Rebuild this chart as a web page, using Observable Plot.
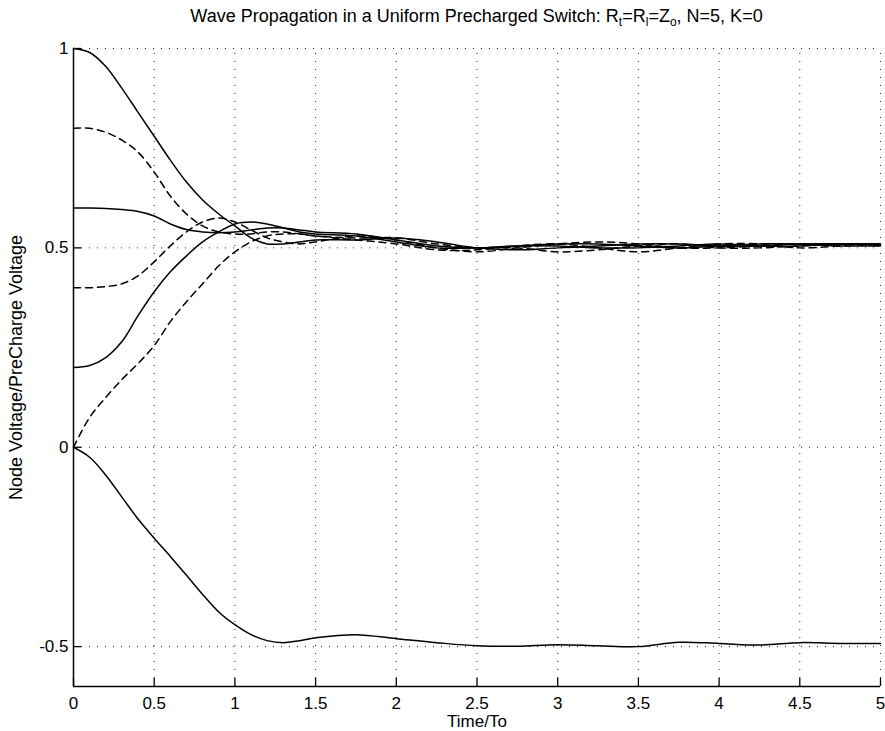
<!DOCTYPE html>
<html>
<head>
<meta charset="utf-8">
<script src="https://cdn.jsdelivr.net/npm/d3@7"></script>
<script src="https://cdn.jsdelivr.net/npm/@observablehq/plot@0.6"></script>
<style>
  body { margin: 0; background: #fff; }
  #title { height: 30px; box-sizing: border-box; padding: 7px 5px 0 73px; text-align: center;
           font-family: "Liberation Sans", Arial, sans-serif; font-size: 18px; line-height: 19px; color: #000; }
  #title sub { font-size: 12px; vertical-align: -4px; line-height: 0; }
  #chart g[aria-label$="tick label"] text { font-size: 17px; }
</style>
</head>
<body>
<div id="title">Wave Propagation in a Uniform Precharged Switch: R<sub>t</sub>=R<sub>l</sub>=Z<sub>o</sub>, N=5, K=0</div>
<div id="chart"></div>
<script>
const time = [0,0.1,0.2,0.3,0.4,0.5,0.6,0.7,0.8,0.9,1.0,1.1,1.2,1.3,1.4,1.5,
              1.75,2,2.25,2.5,2.75,3,3.25,3.5,3.75,4,4.25,4.5,4.75,5];
const node1 = [1,0.99,0.955,0.9,0.84,0.78,0.72,0.665,0.62,0.585,0.555,0.525,0.51,0.51,0.515,0.52,
               0.52,0.525,0.515,0.5,0.495,0.5,0.505,0.51,0.51,0.505,0.505,0.51,0.51,0.508];
const node2 = [0.8,0.8,0.79,0.77,0.74,0.69,0.63,0.585,0.555,0.54,0.535,0.535,0.54,0.54,0.535,0.53,
               0.52,0.51,0.495,0.495,0.505,0.51,0.5,0.49,0.5,0.51,0.51,0.5,0.505,0.51];
const node3 = [0.6,0.6,0.599,0.596,0.591,0.58,0.56,0.546,0.54,0.538,0.54,0.545,0.55,0.55,0.545,0.54,
               0.535,0.52,0.505,0.5,0.505,0.51,0.51,0.505,0.5,0.505,0.51,0.51,0.505,0.505];
const node4 = [0.4,0.4,0.403,0.41,0.43,0.465,0.505,0.54,0.565,0.575,0.565,0.545,0.525,0.515,0.51,0.515,
               0.53,0.52,0.5,0.49,0.5,0.51,0.515,0.51,0.5,0.5,0.505,0.51,0.51,0.505];
const node5 = [0.2,0.205,0.225,0.265,0.33,0.39,0.44,0.48,0.515,0.54,0.56,0.565,0.56,0.55,0.54,0.535,
               0.53,0.515,0.5,0.5,0.505,0.505,0.5,0.5,0.505,0.51,0.505,0.505,0.51,0.51];
const node6 = [0,0.075,0.125,0.17,0.21,0.255,0.315,0.365,0.41,0.455,0.49,0.515,0.53,0.535,0.535,0.53,
               0.525,0.525,0.51,0.5,0.5,0.49,0.495,0.505,0.51,0.5,0.5,0.505,0.51,0.51];
const load  = [0,-0.025,-0.07,-0.125,-0.18,-0.228,-0.274,-0.321,-0.369,-0.413,-0.445,-0.47,-0.485,-0.49,-0.485,-0.478,
               -0.47,-0.48,-0.49,-0.498,-0.499,-0.495,-0.498,-0.5,-0.489,-0.492,-0.496,-0.49,-0.492,-0.492];
const xTicks = [0,0.5,1,1.5,2,2.5,3,3.5,4,4.5,5];
const yTicks = [-0.5,0,0.5,1];

const solidSeries = {node1, node3, node5, load};
const dashedSeries = {node2, node4, node6};
const toRows = (obj) => Object.entries(obj).flatMap(([name, vals]) =>
  vals.map((v, i) => ({series: name, t: time[i], v})));
const solidRows = toRows(solidSeries);
const dashedRows = toRows(dashedSeries);

const yMin = -0.6, yMax = 1, xMin = 0, xMax = 5;
const fmt = d => d < 0 ? "-" + Math.abs(d) : String(d);
const dotted = {stroke: "#000", strokeWidth: 1, strokeDasharray: "1,7", strokeOpacity: 0.85};

const chart = Plot.plot({
  width: 885, height: 701,
  marginTop: 18, marginBottom: 45, marginLeft: 73, marginRight: 5,
  style: {fontFamily: "'Liberation Sans', Arial, sans-serif", fontSize: "17px", color: "#000", background: "#fff"},
  x: {domain: [xMin, xMax]},
  y: {domain: [yMin, yMax]},
  marks: [
    Plot.ruleX(xTicks.filter(d => d > 0), {...dotted, y1: yMin, y2: yMax}),
    Plot.ruleY(yTicks, {...dotted, x1: xMin, x2: xMax}),
    Plot.ruleX(xTicks, {y1: yMin, y2: yMin + 0.02, stroke: "#000", strokeWidth: 1.3}),
    Plot.ruleY(yTicks, {x1: xMin, x2: xMin + 0.05, stroke: "#000", strokeWidth: 1.3}),
    Plot.ruleX([xMin], {y1: yMin, y2: yMax, stroke: "#000", strokeWidth: 1.5}),
    Plot.ruleY([yMin], {x1: xMin, x2: xMax, stroke: "#000", strokeWidth: 1.5}),
    Plot.axisX({ticks: xTicks, tickSize: 0, tickPadding: 10, tickFormat: fmt, fontSize: 17, label: null}),
    Plot.axisX({ticks: [], tickSize: 0, fontSize: 17,
                label: "Time/To", labelAnchor: "center", labelArrow: "none", labelOffset: 40}),
    Plot.axisY({ticks: yTicks, tickSize: 0, tickPadding: 5, tickFormat: fmt, fontSize: 17, label: null}),
    Plot.axisY({ticks: [], tickSize: 0, fontSize: 18,
                label: "Node Voltage/PreCharge Voltage", labelAnchor: "center", labelArrow: "none", labelOffset: 64}),
    Plot.line(solidRows, {x: "t", y: "v", z: "series", curve: "catmull-rom", stroke: "#000", strokeWidth: 1.5}),
    Plot.line(dashedRows, {x: "t", y: "v", z: "series", curve: "catmull-rom", stroke: "#000", strokeWidth: 1.5, strokeDasharray: "7,5"})
  ]
});
document.getElementById("chart").appendChild(chart);
</script>
</body>
</html>
